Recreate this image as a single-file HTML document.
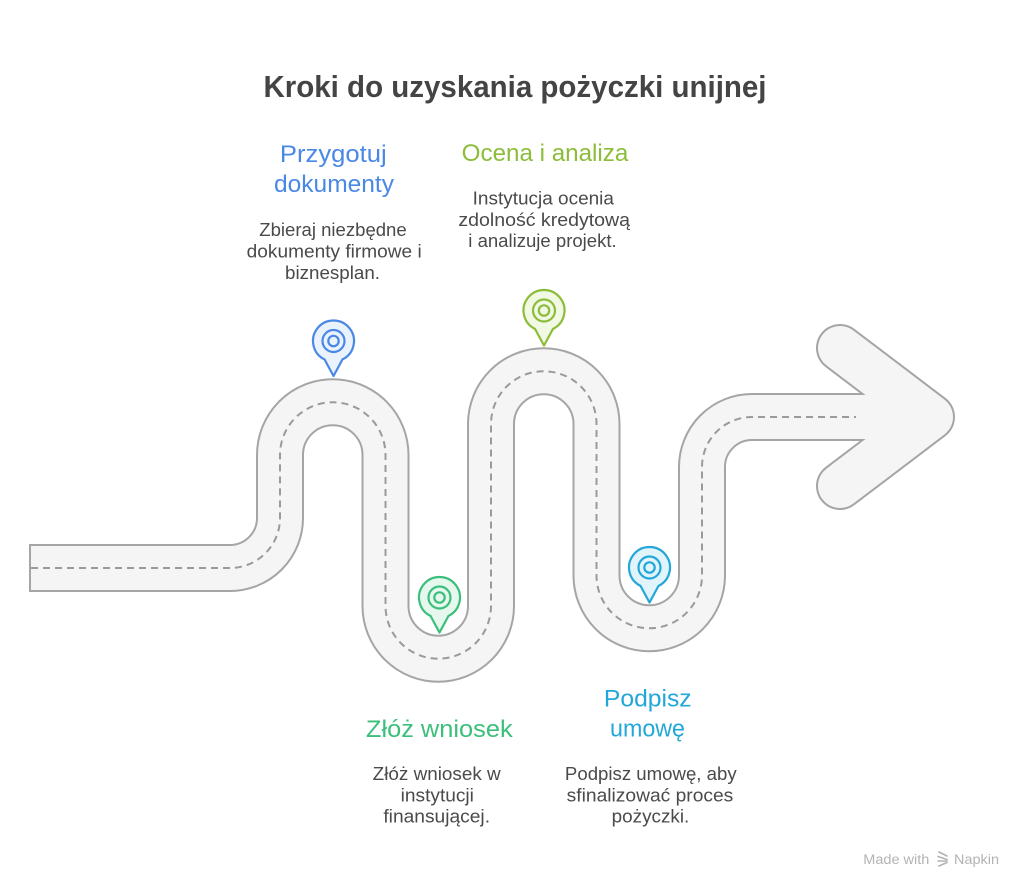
<!DOCTYPE html>
<html>
<head>
<meta charset="utf-8">
<style>
  html, body { margin: 0; padding: 0; background: #ffffff; }
  svg { display: block; }
  .t { font-family: "Liberation Sans", "Noto Sans CJK JP", sans-serif; }
</style>
</head>
<body>
<svg width="1030" height="894" viewBox="0 0 1030 894" xmlns="http://www.w3.org/2000/svg">
  <rect x="0" y="0" width="1030" height="894" fill="#ffffff"/>

  <!-- Title -->
  <text class="t" x="515" y="97" text-anchor="middle" font-size="31" font-weight="bold" fill="#444444" textLength="503" lengthAdjust="spacingAndGlyphs">Kroki do uzyskania pożyczki unijnej</text>

  <!-- Road outline layer -->
  <g fill="none" stroke="#a5a5a5" stroke-width="48">
    <path d="M 29 568 H 230 A 50 50 0 0 0 280 518 V 455 A 52.75 52.75 0 0 1 385.5 455 V 606 A 52.75 52.75 0 0 0 491 606 V 424 A 52.75 52.75 0 0 1 596.5 424 V 575.5 A 52.75 52.75 0 0 0 702 575.5 V 467 A 50 50 0 0 1 752 417 H 905"/>
    <path d="M 840 348 L 931 417 L 840 486" stroke-linecap="round" stroke-linejoin="round"/>
  </g>
  <!-- Road fill layer -->
  <g fill="none" stroke="#f5f5f5" stroke-width="44">
    <path d="M 31 568 H 230 A 50 50 0 0 0 280 518 V 455 A 52.75 52.75 0 0 1 385.5 455 V 606 A 52.75 52.75 0 0 0 491 606 V 424 A 52.75 52.75 0 0 1 596.5 424 V 575.5 A 52.75 52.75 0 0 0 702 575.5 V 467 A 50 50 0 0 1 752 417 H 905"/>
    <path d="M 840 348 L 931 417 L 840 486" stroke-linecap="round" stroke-linejoin="round"/>
  </g>
  <!-- Dashed centre line -->
  <path d="M 31 568 H 230 A 50 50 0 0 0 280 518 V 455 A 52.75 52.75 0 0 1 385.5 455 V 606 A 52.75 52.75 0 0 0 491 606 V 424 A 52.75 52.75 0 0 1 596.5 424 V 575.5 A 52.75 52.75 0 0 0 702 575.5 V 467 A 50 50 0 0 1 752 417 H 856" fill="none" stroke="#9a9a9a" stroke-width="2" stroke-dasharray="7 5"/>

  <!-- Pins -->
  <g transform="translate(333.5,341)">
    <path d="M -9 18.4 A 20.5 20.5 0 1 1 9 18.4 L 0 35 Z" fill="#eaf2fd" stroke="#4a88e6" stroke-width="2.2" stroke-linejoin="round"/>
    <circle r="11" fill="none" stroke="#4a88e6" stroke-width="2.2"/>
    <circle r="5.2" fill="#eaf2fd" stroke="#4a88e6" stroke-width="2.2"/>
  </g>
  <g transform="translate(439.5,597.5)">
    <path d="M -9 18.4 A 20.5 20.5 0 1 1 9 18.4 L 0 35 Z" fill="#e6f8ee" stroke="#3cbf7c" stroke-width="2.2" stroke-linejoin="round"/>
    <circle r="11" fill="none" stroke="#3cbf7c" stroke-width="2.2"/>
    <circle r="5.2" fill="#e6f8ee" stroke="#3cbf7c" stroke-width="2.2"/>
  </g>
  <g transform="translate(544,310.5)">
    <path d="M -9 18.4 A 20.5 20.5 0 1 1 9 18.4 L 0 35 Z" fill="#f1f8e3" stroke="#8cbd3a" stroke-width="2.2" stroke-linejoin="round"/>
    <circle r="11" fill="none" stroke="#8cbd3a" stroke-width="2.2"/>
    <circle r="5.2" fill="#f1f8e3" stroke="#8cbd3a" stroke-width="2.2"/>
  </g>
  <g transform="translate(649.5,567.5)">
    <path d="M -9 18.4 A 20.5 20.5 0 1 1 9 18.4 L 0 35 Z" fill="#e2f4fb" stroke="#22a7d8" stroke-width="2.2" stroke-linejoin="round"/>
    <circle r="11" fill="none" stroke="#22a7d8" stroke-width="2.2"/>
    <circle r="5.2" fill="#e2f4fb" stroke="#22a7d8" stroke-width="2.2"/>
  </g>

  <!-- Block 1: Przygotuj dokumenty -->
  <g class="t" text-anchor="middle">
    <text x="333.3" y="162" font-size="24" fill="#4a88e6" textLength="106.7" lengthAdjust="spacingAndGlyphs">Przygotuj</text>
    <text x="334" y="192" font-size="24" fill="#4a88e6" textLength="120" lengthAdjust="spacingAndGlyphs">dokumenty</text>
    <text x="333" y="236" font-size="18" fill="#4a4a4a" textLength="147.4" lengthAdjust="spacingAndGlyphs">Zbieraj niezbędne</text>
    <text x="334.2" y="257.5" font-size="18" fill="#4a4a4a" textLength="175" lengthAdjust="spacingAndGlyphs">dokumenty firmowe i</text>
    <text x="332.5" y="279" font-size="18" fill="#4a4a4a" textLength="95" lengthAdjust="spacingAndGlyphs">biznesplan.</text>
  </g>

  <!-- Block 3: Ocena i analiza -->
  <g class="t" text-anchor="middle">
    <text x="545" y="161" font-size="24" fill="#8cbd3a" textLength="166.6" lengthAdjust="spacingAndGlyphs">Ocena i analiza</text>
    <text x="543.3" y="204.5" font-size="18" fill="#4a4a4a" textLength="141.3" lengthAdjust="spacingAndGlyphs">Instytucja ocenia</text>
    <text x="544.2" y="226" font-size="18" fill="#4a4a4a" textLength="171.7" lengthAdjust="spacingAndGlyphs">zdolność kredytową</text>
    <text x="542.5" y="247" font-size="18" fill="#4a4a4a" textLength="148.4" lengthAdjust="spacingAndGlyphs">i analizuje projekt.</text>
  </g>

  <!-- Block 2: Złóż wniosek -->
  <g class="t" text-anchor="middle">
    <text x="439.3" y="737" font-size="24" fill="#3cbf7c" textLength="146.7" lengthAdjust="spacingAndGlyphs">Złóż wniosek</text>
    <text x="436.7" y="780" font-size="18" fill="#4a4a4a" textLength="128" lengthAdjust="spacingAndGlyphs">Złóż wniosek w</text>
    <text x="437.3" y="801.7" font-size="18" fill="#4a4a4a" textLength="73.3" lengthAdjust="spacingAndGlyphs">instytucji</text>
    <text x="436.7" y="822.7" font-size="18" fill="#4a4a4a" textLength="106.7" lengthAdjust="spacingAndGlyphs">finansującej.</text>
  </g>

  <!-- Block 4: Podpisz umowę -->
  <g class="t" text-anchor="middle">
    <text x="647.8" y="706.7" font-size="24" fill="#22a7d8" textLength="87.7" lengthAdjust="spacingAndGlyphs">Podpisz</text>
    <text x="647.5" y="736.7" font-size="24" fill="#22a7d8" textLength="75" lengthAdjust="spacingAndGlyphs">umowę</text>
    <text x="650.8" y="780" font-size="18" fill="#4a4a4a" textLength="171.7" lengthAdjust="spacingAndGlyphs">Podpisz umowę, aby</text>
    <text x="650" y="801.7" font-size="18" fill="#4a4a4a" textLength="166.6" lengthAdjust="spacingAndGlyphs">sfinalizować proces</text>
    <text x="650.5" y="822.7" font-size="18" fill="#4a4a4a" textLength="77.6" lengthAdjust="spacingAndGlyphs">pożyczki.</text>
  </g>

  <!-- Footer -->
  <text class="t" x="863.3" y="864" font-size="13.5" fill="#b3b3b3" textLength="66" lengthAdjust="spacingAndGlyphs">Made with</text>
  <g stroke="#b3b3b3" stroke-width="1.6" stroke-linecap="round" fill="none">
    <path d="M 939 852 L 947 856"/>
    <path d="M 938 856.5 L 947 859.5"/>
    <path d="M 938 861 L 947 861"/>
    <path d="M 939 866 L 947 862.5"/>
  </g>
  <text class="t" x="954" y="864" font-size="13.5" fill="#b3b3b3" textLength="45" lengthAdjust="spacingAndGlyphs">Napkin</text>
</svg>
</body>
</html>
